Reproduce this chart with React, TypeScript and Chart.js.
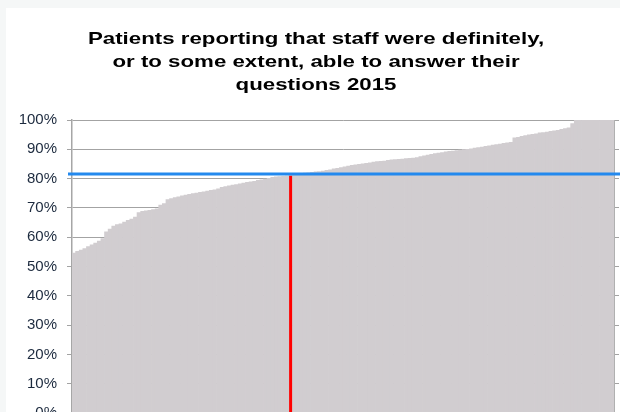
import React, { useEffect, useRef } from "react";
import { Chart, registerables } from "chart.js";

Chart.register(...registerables);

const TITLE_LINES = [
  "Patients reporting that staff were definitely,",
  "or to some extent, able to answer their",
  "questions 2015",
];

const VALUES = [
  54.6, 55.2, 55.6, 56.1, 56.8, 57.4, 58.0, 58.7, 59.5, 61.8,
  62.8, 63.8, 64.3, 64.6, 65.2, 65.8, 66.2, 66.9, 68.4, 68.8,
  69.0, 69.2, 69.4, 69.7, 71.0, 71.5, 72.8, 73.2, 73.5, 73.8,
  74.1, 74.4, 74.6, 74.9, 75.1, 75.3, 75.5, 75.7, 76.0, 76.2,
  76.5, 77.0, 77.3, 77.5, 77.8, 78.0, 78.2, 78.5, 78.7, 78.9,
  79.1, 79.4, 79.6, 79.8, 80.1, 80.4, 80.6, 80.7, 80.8, 80.9,
  81.0, 81.2, 81.5, 81.8, 81.9, 82.0, 82.1, 82.3, 82.4, 82.6,
  82.8, 83.0, 83.3, 83.5, 83.8, 84.0, 84.3, 84.5, 84.7, 84.9,
  85.0, 85.2, 85.4, 85.6, 85.8, 85.9, 86.0, 86.2, 86.4, 86.5,
  86.6, 86.7, 86.8, 86.9, 87.0, 87.2, 87.5, 87.8, 88.0, 88.3,
  88.5, 88.7, 88.9, 89.1, 89.3, 89.4, 89.6, 89.7, 89.9, 90.0,
  90.2, 90.4, 90.6, 90.8, 91.0, 91.2, 91.4, 91.6, 91.8, 92.0,
  92.2, 92.4, 93.9, 94.1, 94.4, 94.7, 94.9, 95.1, 95.3, 95.6,
  95.7, 95.9, 96.1, 96.3, 96.5, 96.8, 97.1, 97.3, 98.8, 100,
  100, 100, 100, 100, 100, 100, 100, 100, 100, 100,
];

const CATEGORIES = VALUES.map((_, i) => "Trust " + (i + 1));

const HIGHLIGHT_INDEX = 60;
const NATIONAL_AVERAGE = 81.6;
const Y_TICKS = [0, 10, 20, 30, 40, 50, 60, 70, 80, 90, 100];

const TITLE_CENTER_X = 310;
const TITLE_FIRST_BASELINE = 36;
const TITLE_LINE_GAP = 23;
const TITLE_STRETCH = 1.31;

const titlePlugin = {
  id: "stretchedTitle",
  afterDraw(chart: any) {
    const { ctx } = chart;
    ctx.save();
    ctx.font = "bold 17px Arial, 'Liberation Sans', sans-serif";
    ctx.fillStyle = "#000000";
    ctx.textAlign = "center";
    ctx.textBaseline = "alphabetic";
    TITLE_LINES.forEach((line, i) => {
      ctx.save();
      ctx.translate(TITLE_CENTER_X, TITLE_FIRST_BASELINE + i * TITLE_LINE_GAP);
      ctx.scale(TITLE_STRETCH, 1);
      ctx.fillText(line, 0, 0);
      ctx.restore();
    });
    ctx.restore();
  },
};

const markersPlugin = {
  id: "markers",
  afterDatasetsDraw(chart: any) {
    const { ctx, chartArea, scales } = chart;
    const x = scales.x.getPixelForValue(HIGHLIGHT_INDEX);
    const yTop = scales.y.getPixelForValue(VALUES[HIGHLIGHT_INDEX]);
    const yBottom = scales.y.getPixelForValue(0);
    ctx.save();
    ctx.strokeStyle = "#ff0000";
    ctx.lineWidth = 3;
    ctx.beginPath();
    ctx.moveTo(x, yTop);
    ctx.lineTo(x, yBottom);
    ctx.stroke();
    const yAvg = scales.y.getPixelForValue(NATIONAL_AVERAGE);
    ctx.strokeStyle = "#2389ee";
    ctx.lineWidth = 3;
    ctx.beginPath();
    ctx.moveTo(chartArea.left - 4, yAvg);
    ctx.lineTo(chart.width, yAvg);
    ctx.stroke();
    ctx.restore();
  },
};

export default function App() {
  const ref = useRef<HTMLCanvasElement | null>(null);

  useEffect(() => {
    document.body.style.background = "#f5f7f7";
    document.body.style.overflow = "hidden";
    if (!ref.current) return;
    const chart = new Chart(ref.current, {
      type: "bar",
      data: {
        labels: CATEGORIES,
        datasets: [
          {
            data: VALUES,
            backgroundColor: "#d1cdd0",
            borderWidth: 0,
            categoryPercentage: 1,
            barPercentage: 1,
          },
        ],
      },
      options: {
        animation: false,
        responsive: false,
        layout: { padding: { left: 0, right: 1, top: 112, bottom: 35 } },
        plugins: {
          legend: { display: false },
          tooltip: { enabled: false },
          title: { display: false },
        },
        scales: {
          x: { display: false },
          y: {
            min: 0,
            max: 100,
            afterBuildTicks(scale: any) {
              scale.ticks = Y_TICKS.map((v) => ({ value: v }));
            },
            afterFit(scale: any) {
              scale.width = 66;
            },
            ticks: {
              padding: 10,
              color: "#1c2a3e",
              font: { family: "Arial, 'Liberation Sans', sans-serif", size: 15 },
              callback: (v: any) => v + "%",
            },
            grid: { color: "#a3a3a3", lineWidth: 1, tickLength: 5 },
            border: { color: "#a6a6a6", width: 1.5 },
          },
          y2: {
            position: "right",
            min: 0,
            max: 100,
            afterBuildTicks(scale: any) {
              scale.ticks = Y_TICKS.map((v) => ({ value: v }));
            },
            ticks: { display: false },
            grid: { drawOnChartArea: false, color: "#a3a3a3", tickLength: 5 },
            border: { color: "#b0b0b0", width: 1 },
          },
        },
      },
      plugins: [markersPlugin, titlePlugin],
    });
    return () => chart.destroy();
  }, []);

  return (
    <div style={{ position: "fixed", left: 6, top: 8, width: 614, height: 440, background: "#ffffff" }}>
      <canvas ref={ref} width={614} height={440} style={{ display: "block" }} />
    </div>
  );
}
